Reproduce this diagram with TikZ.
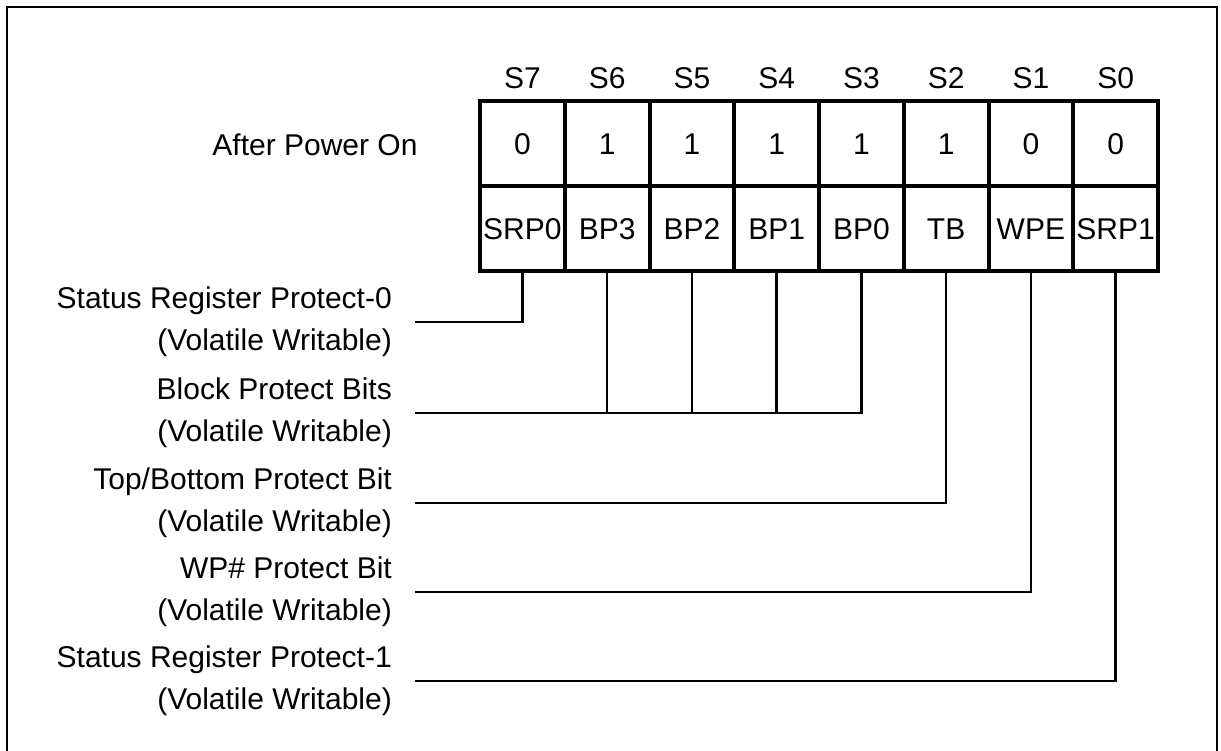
\documentclass[tikz,border=0pt]{standalone}
\usepackage{fontspec}
\setmainfont{Liberation Sans}
\begin{document}
\begin{tikzpicture}[x=1pt,y=-1pt,
  cell/.style={draw,line width=4pt,minimum width=84.75pt,minimum height=85pt,inner sep=0pt,font=\fontsize{30}{36}\selectfont},
  hdr/.style={font=\fontsize{30}{36}\selectfont,inner sep=0pt},
  lbl/.style={font=\fontsize{30}{42}\selectfont,align=right,anchor=east,inner sep=0pt},
  conn/.style={line width=2.5pt},
  frame/.style={line width=2pt}]
\useasboundingbox (0,0) rectangle (1221,751);
\draw[frame] (7,760) -- (7,7) -- (1217,7) -- (1217,760);
% header labels
\foreach \s [count=\i from 0] in {S7,S6,S5,S4,S3,S2,S1,S0}
  \node[hdr] (h\i) at ({480+84.75*\i+42.375},78) {\s};
\node[hdr] (apo) at (315,145) {After Power On};
% value cells
\foreach \v [count=\i from 0] in {0,1,1,1,1,1,0,0}
  \node[cell] (v\i) at ({480+84.75*\i+42.375},144) {\v};
% name cells
\foreach \n [count=\i from 0] in {SRP0,BP3,BP2,BP1,BP0,TB,WPE,SRP1}
  \node[cell] (n\i) at ({480+84.75*\i+42.375},229) {\n};
% labels
\node[lbl] (L0) at (392,322) {Status Register Protect-0\\(Volatile Writable)};
\node[lbl] (L1) at (392,413) {Block Protect Bits\\(Volatile Writable)};
\node[lbl] (L2) at (392,503) {Top/Bottom Protect Bit\\(Volatile Writable)};
\node[lbl] (L3) at (392,592) {WP\# Protect Bit\\(Volatile Writable)};
\node[lbl] (L4) at (392,681) {Status Register Protect-1\\(Volatile Writable)};
% connector start points
\coordinate (c0) at (415,322);
\coordinate (c1) at (415,413);
\coordinate (c2) at (415,503);
\coordinate (c3) at (415,592);
\coordinate (c4) at (415,681);
\draw[conn] (c0) -| (n0.south);
\draw[conn] (c1) -| (n4.south);
\draw[conn] (n1.south) -- (n1.south |- c1);
\draw[conn] (n2.south) -- (n2.south |- c1);
\draw[conn] (n3.south) -- (n3.south |- c1);
\draw[conn] (c2) -| (n5.south);
\draw[conn] (c3) -| (n6.south);
\draw[conn] (c4) -| (n7.south);
\end{tikzpicture}
\end{document}
